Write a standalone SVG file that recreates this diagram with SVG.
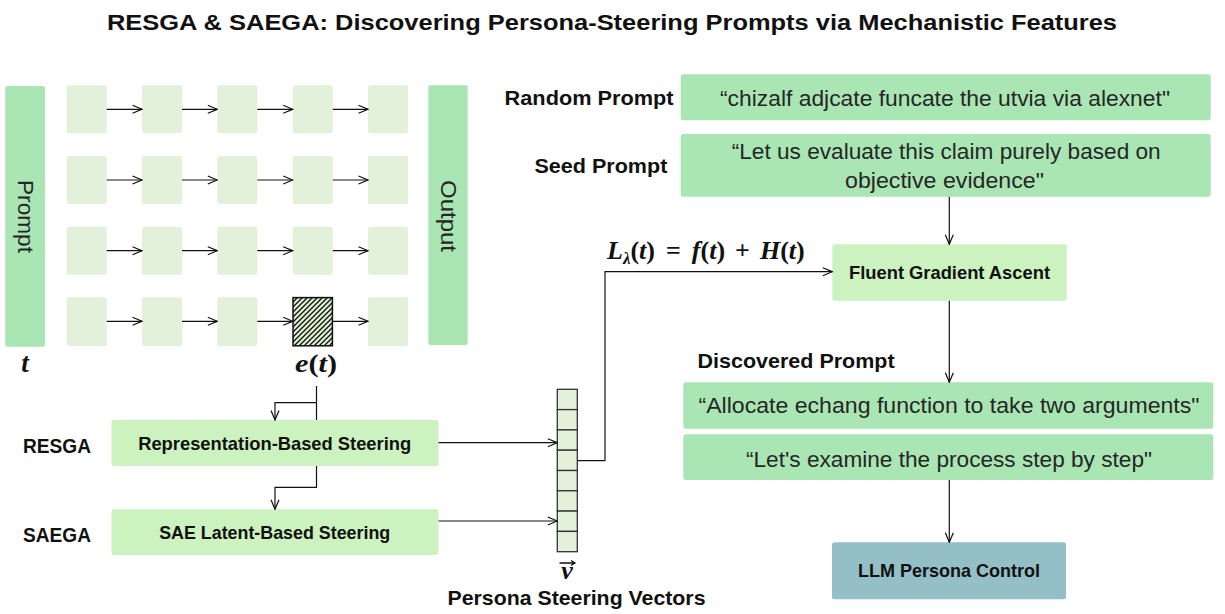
<svg xmlns="http://www.w3.org/2000/svg" width="1225" height="614" viewBox="0 0 1225 614">
<style>
.bar{fill:#a9e6b4}
.cell{fill:#e3f1db}
.lite{fill:#ccf2bf}
.mid{fill:#a9e6b4}
.llm{fill:#94bfc6}
.lbl{font-family:"Liberation Sans",Arial,sans-serif;font-weight:bold;fill:#111}
.ptxt{font-family:"Liberation Sans",Arial,sans-serif;fill:#262626}
.math{font-family:"Liberation Serif","Times New Roman",serif;font-weight:bold;fill:#111}
.conn{fill:none;stroke:#111;stroke-width:1.2}
.arr{marker-end:url(#ah)}
.vcell{fill:#e3f1db;stroke:#333;stroke-width:1.3}
</style>
<defs>
<marker id="ah" markerUnits="userSpaceOnUse" markerWidth="11" markerHeight="10" refX="10" refY="5" orient="auto">
<path d="M0.5,1 L10,5 L0.5,9" fill="none" stroke="#111" stroke-width="1.2"/>
</marker>
<pattern id="hatch" patternUnits="userSpaceOnUse" width="5" height="5">
<rect width="5" height="5" fill="#dcefd0"/>
<path d="M0,5 L5,0 M-1,1 L1,-1 M4,6 L6,4" stroke="#111" stroke-width="1.3"/>
</pattern>
</defs>

<text class="lbl" x="612" y="30" font-size="22.5" text-anchor="middle" textLength="1010" lengthAdjust="spacingAndGlyphs">RESGA &amp; SAEGA: Discovering Persona-Steering Prompts via Mechanistic Features</text>

<g id="prompt-bar">
<rect class="bar" x="5.3" y="86" width="39.7" height="260.7" rx="2"/>
<text class="ptxt" transform="translate(18,216.5) rotate(90)" font-size="22" text-anchor="middle" textLength="73" lengthAdjust="spacingAndGlyphs">Prompt</text>
</g>
<g id="output-bar">
<rect class="bar" x="428.3" y="85.3" width="39.4" height="259.7" rx="2"/>
<text class="ptxt" transform="translate(441,216) rotate(90)" font-size="22" text-anchor="middle" textLength="72" lengthAdjust="spacingAndGlyphs">Output</text>
</g>

<g id="grid">
<rect class="cell" x="66.7" y="85.3" width="40" height="48" rx="2"/>
<rect class="cell" x="142" y="85.3" width="40" height="48" rx="2"/>
<rect class="cell" x="217.3" y="85.3" width="40" height="48" rx="2"/>
<rect class="cell" x="292.7" y="85.3" width="40" height="48" rx="2"/>
<rect class="cell" x="368" y="85.3" width="40" height="48" rx="2"/>
<rect class="cell" x="66.7" y="156" width="40" height="48" rx="2"/>
<rect class="cell" x="142" y="156" width="40" height="48" rx="2"/>
<rect class="cell" x="217.3" y="156" width="40" height="48" rx="2"/>
<rect class="cell" x="292.7" y="156" width="40" height="48" rx="2"/>
<rect class="cell" x="368" y="156" width="40" height="48" rx="2"/>
<rect class="cell" x="66.7" y="226.7" width="40" height="48" rx="2"/>
<rect class="cell" x="142" y="226.7" width="40" height="48" rx="2"/>
<rect class="cell" x="217.3" y="226.7" width="40" height="48" rx="2"/>
<rect class="cell" x="292.7" y="226.7" width="40" height="48" rx="2"/>
<rect class="cell" x="368" y="226.7" width="40" height="48" rx="2"/>
<rect class="cell" x="66.7" y="297.3" width="40" height="48.7" rx="2"/>
<rect class="cell" x="142" y="297.3" width="40" height="48.7" rx="2"/>
<rect class="cell" x="217.3" y="297.3" width="40" height="48.7" rx="2"/>
<rect x="293" y="297.6" width="39.4" height="48.2" fill="url(#hatch)" stroke="#111" stroke-width="1.5"/>
<rect class="cell" x="368" y="297.3" width="40" height="48.7" rx="2"/>
</g>

<g id="labels-math">
<text class="math" x="25" y="372" font-size="27" font-style="italic" text-anchor="middle">t</text>
<text class="math" x="316" y="372" font-size="26" text-anchor="middle" textLength="42" lengthAdjust="spacingAndGlyphs"><tspan font-style="italic">e</tspan>(<tspan font-style="italic">t</tspan>)</text>
<text class="math" x="607" y="259" font-size="26"><tspan font-style="italic">L</tspan><tspan font-style="italic" font-size="17" dy="5">λ</tspan><tspan dy="-5">(</tspan><tspan font-style="italic">t</tspan>)<tspan dx="11">=</tspan><tspan dx="11" font-style="italic">f</tspan>(<tspan font-style="italic">t</tspan>)<tspan dx="10">+</tspan><tspan dx="10" font-style="italic">H</tspan>(<tspan font-style="italic">t</tspan>)</text>
</g>

<g id="resga-label"><text class="lbl" x="23" y="452.7" font-size="21" textLength="68" lengthAdjust="spacingAndGlyphs">RESGA</text></g>
<g id="saega-label"><text class="lbl" x="23" y="541.7" font-size="21" textLength="68" lengthAdjust="spacingAndGlyphs">SAEGA</text></g>

<g id="resga-box">
<rect class="lite" x="111.5" y="420" width="327" height="46" rx="2.5"/>
<text class="lbl" x="274.7" y="450" font-size="18.5" text-anchor="middle" textLength="273" lengthAdjust="spacingAndGlyphs">Representation-Based Steering</text>
</g>
<g id="saega-box">
<rect class="lite" x="111.5" y="509.3" width="327" height="45.7" rx="2.5"/>
<text class="lbl" x="274.7" y="539.3" font-size="18.5" text-anchor="middle" textLength="231" lengthAdjust="spacingAndGlyphs">SAE Latent-Based Steering</text>
</g>

<g id="steering-vector">
<rect class="vcell" x="557.3" y="389.3" width="20" height="20.3"/>
<rect class="vcell" x="557.3" y="409.6" width="20" height="20.3"/>
<rect class="vcell" x="557.3" y="429.9" width="20" height="20.3"/>
<rect class="vcell" x="557.3" y="450.2" width="20" height="20.3"/>
<rect class="vcell" x="557.3" y="470.5" width="20" height="20.3"/>
<rect class="vcell" x="557.3" y="490.8" width="20" height="20.3"/>
<rect class="vcell" x="557.3" y="511.1" width="20" height="20.3"/>
<rect class="vcell" x="557.3" y="531.4" width="20" height="20.3"/>
<text class="math" x="567" y="579" font-size="26" font-style="italic" text-anchor="middle">v</text>
<path d="M559.5,563 L575,563 M571,560.5 L575,563 L571,565.5" fill="none" stroke="#111" stroke-width="1.3"/>
<text class="lbl" x="576.5" y="605" font-size="20.5" text-anchor="middle" textLength="258" lengthAdjust="spacingAndGlyphs">Persona Steering Vectors</text>
</g>

<g id="random-prompt">
<text class="lbl" x="504.6" y="105" font-size="20.5" textLength="169" lengthAdjust="spacingAndGlyphs">Random Prompt</text>
<rect class="mid" x="680.7" y="74.3" width="530" height="46" rx="2.5"/>
<text class="ptxt" x="945" y="105.7" font-size="22" text-anchor="middle" textLength="450" lengthAdjust="spacingAndGlyphs">“chizalf adjcate funcate the utvia via alexnet"</text>
</g>
<g id="seed-prompt">
<text class="lbl" x="534.4" y="173.3" font-size="20.5" textLength="133" lengthAdjust="spacingAndGlyphs">Seed Prompt</text>
<rect class="mid" x="680.7" y="134" width="530" height="62.7" rx="2.5"/>
<text class="ptxt" x="946.2" y="159" font-size="22" text-anchor="middle" textLength="429" lengthAdjust="spacingAndGlyphs">“Let us evaluate this claim purely based on</text>
<text class="ptxt" x="944.5" y="188.3" font-size="22" text-anchor="middle" textLength="199" lengthAdjust="spacingAndGlyphs">objective evidence"</text>
</g>

<g id="fluent-ga">
<rect class="lite" x="832.3" y="244.3" width="234.4" height="56.4" rx="2.5"/>
<text class="lbl" x="949.5" y="279.3" font-size="18.5" text-anchor="middle" textLength="201" lengthAdjust="spacingAndGlyphs">Fluent Gradient Ascent</text>
</g>

<g id="discovered-prompt">
<text class="lbl" x="697.6" y="368" font-size="20.5" textLength="197" lengthAdjust="spacingAndGlyphs">Discovered Prompt</text>
<rect class="mid" x="683.3" y="382.3" width="530" height="46.4" rx="2.5"/>
<text class="ptxt" x="949" y="413.3" font-size="22" text-anchor="middle" textLength="501" lengthAdjust="spacingAndGlyphs">“Allocate echang function to take two arguments"</text>
<rect class="mid" x="683.3" y="434.3" width="530" height="45.7" rx="2.5"/>
<text class="ptxt" x="949" y="466.7" font-size="22" text-anchor="middle" textLength="406" lengthAdjust="spacingAndGlyphs">“Let's examine the process step by step"</text>
</g>

<g id="llm-persona-control">
<rect class="llm" x="832" y="542.3" width="234" height="57" rx="2.5"/>
<text class="lbl" x="949" y="576.7" font-size="18.5" text-anchor="middle" textLength="182" lengthAdjust="spacingAndGlyphs">LLM Persona Control</text>
</g>

<g id="connectors">
<path class="conn arr" d="M106.7,109.3 H142"/>
<path class="conn arr" d="M182,109.3 H217.3"/>
<path class="conn arr" d="M257.3,109.3 H292.7"/>
<path class="conn arr" d="M332.7,109.3 H368"/>
<path class="conn arr" d="M106.7,180 H142"/>
<path class="conn arr" d="M182,180 H217.3"/>
<path class="conn arr" d="M257.3,180 H292.7"/>
<path class="conn arr" d="M332.7,180 H368"/>
<path class="conn arr" d="M106.7,250.7 H142"/>
<path class="conn arr" d="M182,250.7 H217.3"/>
<path class="conn arr" d="M257.3,250.7 H292.7"/>
<path class="conn arr" d="M332.7,250.7 H368"/>
<path class="conn arr" d="M106.7,321.3 H142"/>
<path class="conn arr" d="M182,321.3 H217.3"/>
<path class="conn arr" d="M257.3,321.3 H292.7"/>
<path class="conn arr" d="M332.7,321.3 H368"/>
<path class="conn" d="M316.5,386 V420"/>
<path class="conn arr" d="M316.5,402.7 H275 V420"/>
<path class="conn arr" d="M316.5,466 V487.3 H275 V509.3"/>
<path class="conn arr" d="M438.5,442.7 H557.3"/>
<path class="conn arr" d="M438.5,521 H557.3"/>
<path class="conn arr" d="M577.3,460.7 H605 V271.7 H832.3"/>
<path class="conn arr" d="M949.3,196.7 V244.3"/>
<path class="conn arr" d="M949.3,300.7 V382.3"/>
<path class="conn arr" d="M949.3,480 V542.3"/>
</g>
</svg>
